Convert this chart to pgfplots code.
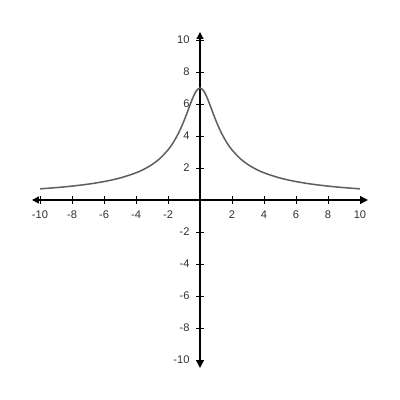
\documentclass[border=0pt]{standalone}
\usepackage{pgfplots}
\pgfplotsset{compat=1.18}
\usepackage{fontspec}
\setmainfont{Liberation Sans}
\usetikzlibrary{arrows.meta}

\definecolor{curvegray}{RGB}{95,95,95}
\definecolor{labelgray}{RGB}{50,50,50}

\begin{document}
\begin{tikzpicture}
\begin{axis}[
    scale only axis,
    width=242pt, height=242pt,
    xmin=-10.5, xmax=10.5,
    ymin=-10.5, ymax=10.5,
    axis lines=middle,
    axis line style={black, line width=0.8pt, {Triangle[length=5pt,width=5pt]}-{Triangle[length=5pt,width=5pt]}},
    xtick={-10,-8,-6,-4,-2,2,4,6,8,10},
    ytick={-10,-8,-6,-4,-2,2,4,6,8,10},
    tick align=center,
    major tick length=6pt,
    tick style={black, line width=0.6pt},
    /pgf/number format/assume math mode=true,
    tick label style={font=\fontsize{8}{9}\selectfont, text=labelgray},
    xticklabel style={anchor=north, yshift=-1pt},
    yticklabel style={anchor=east, xshift=-1pt},
    clip=false,
]
\addplot[curvegray, line width=1.1pt, smooth] coordinates {
    (-10,0.697) (-9,0.773) (-8,0.868) (-7,0.990) (-6,1.151) (-5,1.373)
    (-4,1.698) (-3.5,1.923) (-3,2.214) (-2.5,2.600) (-2,3.130)
    (-1.75,3.473) (-1.5,3.883) (-1.25,4.373) (-1,4.950) (-0.75,5.600)
    (-0.5,6.261) (-0.25,6.791) (0,7.000)
    (0.25,6.791) (0.5,6.261) (0.75,5.600) (1,4.950) (1.25,4.373)
    (1.5,3.883) (1.75,3.473) (2,3.130) (2.5,2.600) (3,2.214)
    (3.5,1.923) (4,1.698) (5,1.373) (6,1.151) (7,0.990) (8,0.868)
    (9,0.773) (10,0.697)
};
\coordinate (bl) at (axis cs:-12.5,-12.45);
\coordinate (tr) at (axis cs:12.5,12.5);
\end{axis}
\pgfresetboundingbox
\path[use as bounding box] (bl) rectangle (tr);
\end{tikzpicture}
\end{document}
